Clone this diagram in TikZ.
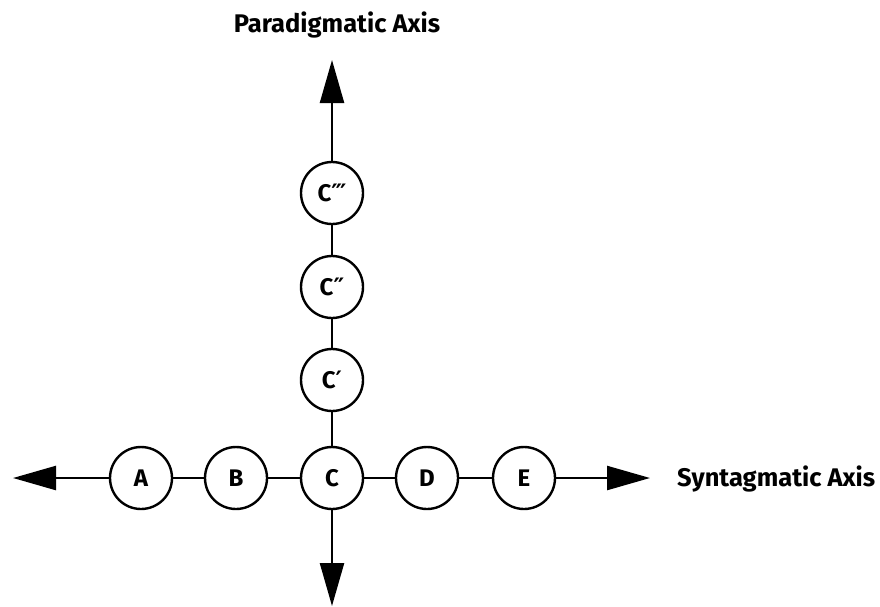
\documentclass[tikz,border=0pt]{standalone}
\usepackage{fontspec}
\setmainfont{Fira Sans}
\newfontfamily\primefont{DejaVu Sans}
\usetikzlibrary{arrows.meta}
\begin{document}
\begin{tikzpicture}[x=1pt,y=-1pt,
  unit/.style={circle,draw,line width=2.4pt,minimum size=62pt,inner sep=0pt,font=\fontsize{24}{28}\selectfont\bfseries},
  link/.style={line width=2.4pt},
  axis/.style={line width=2.4pt,-{Triangle[length=43pt,width=24pt]}},
  lbl/.style={font=\fontsize{25.5}{30}\selectfont\bfseries}]
\useasboundingbox (0,0) rectangle (880,606);
\node[unit] (A) at (141,478) {A};
\node[unit] (B) at (236,478) {B};
\node[unit] (C) at (332,478) {C};
\node[unit] (D) at (427,478) {D};
\node[unit] (E) at (524,478) {E};
\node[unit] (C1) at (332,380) {C{\primefont ′}};
\node[unit] (C2) at (332,287) {C{\primefont ″}};
\node[unit] (C3) at (332,193) {C{\primefont ‴}};
\coordinate (L) at (13,478);
\coordinate (R) at (650,478);
\coordinate (U) at (332,60);
\coordinate (Dn) at (332,606);
\draw[link] (A) -- (B);
\draw[link] (B) -- (C);
\draw[link] (C) -- (D);
\draw[link] (D) -- (E);
\draw[link] (C) -- (C1);
\draw[link] (C1) -- (C2);
\draw[link] (C2) -- (C3);
\draw[axis] (A) -- (L);
\draw[axis] (E) -- (R);
\draw[axis] (C3) -- (U);
\draw[axis] (C) -- (Dn);
\node[lbl] (PA) at (337,25) {Paradigmatic Axis};
\node[lbl,anchor=west,inner sep=0pt] (SA) at (677,479) {Syntagmatic Axis};
\end{tikzpicture}
\end{document}
